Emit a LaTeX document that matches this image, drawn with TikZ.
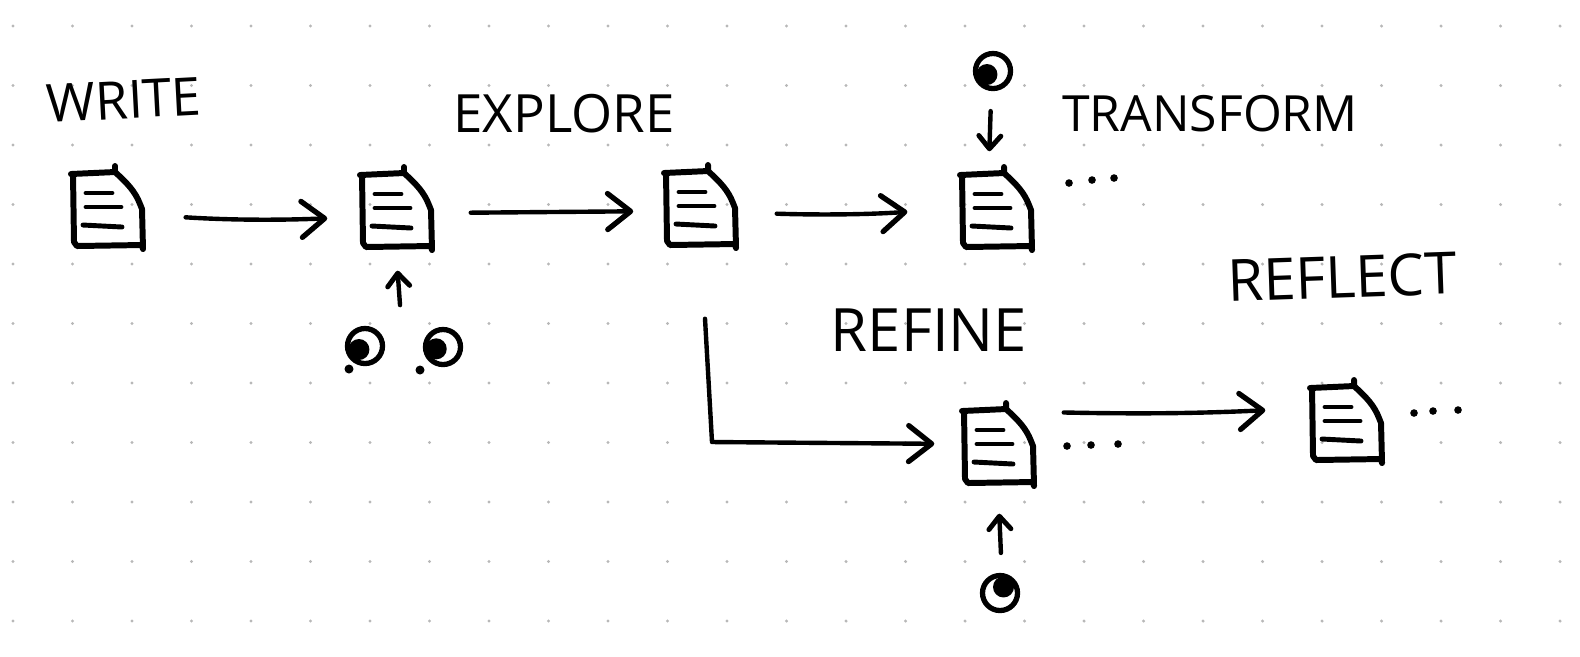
\documentclass[tikz,border=0pt]{standalone}
\usepackage{fontspec}
\setmainfont{Open Sans}
\usetikzlibrary{arrows.meta}

\tikzset{
    sketch/.style={line width=1.25pt, line cap=round, line join=round},
    flow/.style={sketch, -{Straight Barb[round,length=2.3mm,width=3.6mm,line width=1.5pt]}},
    pointer/.style={sketch, -{Straight Barb[round,length=1.3mm,width=2.2mm,line width=1.4pt]}},
    hand/.style={font=\fontsize{#1}{#1}\selectfont, inner sep=0pt},
    hand/.default=15,
    docbox/.style={minimum width=0.7cm, minimum height=0.8cm, inner sep=0pt},
    eyenode/.style={circle, minimum size=0.35cm, inner sep=0pt, draw, line width=1.5pt},
    speck/.style={circle, fill, inner sep=0pt, minimum size=0.09cm}
}

% hand drawn page around a named node
\newcommand{\docpage}[3]{
    \node (#1) [docbox] at (#2,#3) {};
    \begin{scope}[shift={(#2,#3)}]
        \draw [sketch, line width=1.7pt] (-34,-33) -- (-36,-33) -- (8,-35) -- (8,-41) -- (8,-35)
            .. controls (20,-24) and (28,-16) .. (33,-3) -- (35,2) -- (36,42) -- (35,38)
            -- (-30,39) -- (-33,35) -- (-34,-33);
        \draw [sketch, line width=1.4pt] (-21,-14) -- (5,-14);
        \draw [sketch, line width=1.4pt] (-21,0) -- (14,0);
        \draw [sketch, line width=1.4pt] (-24,18) -- (15,20);
    \end{scope}
}
% eye with the dark side to the given angle
\newcommand{\eyeball}[4]{
    \node (#1) [eyenode] at (#2,#3) {};
    \fill (#1.center) ++(#4:7) circle (10.5);
}

\begin{document}
\begin{tikzpicture}[x=0.01cm, y=-0.01cm]
    \useasboundingbox (0,0) rectangle (1580,656);

    % dot grid
    \foreach \i in {0,...,26}
        \foreach \j in {0,...,10}
            \fill [black!28] (13+59.5*\i, 26+59.5*\j) circle (1.7);

    % pages
    \docpage{write}{107}{207}
    \docpage{explore}{396}{208}
    \docpage{branch}{700}{206}
    \docpage{transform}{996}{208}
    \docpage{refine}{998}{444}
    \docpage{reflect}{1346}{421}

    % labels
    \node [hand, rotate=3] (writelabel) at (124,100) {WRITE};
    \node [hand] (explorelabel) at (564,114) {EXPLORE};
    \node [hand=14.2] (transformlabel) at (1210,114) {TRANSFORM};
    \node [hand=17] (refinelabel) at (929,330) {REFINE};
    \node [hand=16.5, rotate=2] (reflectlabel) at (1342,277) {REFLECT};

    % eyes
    \eyeball{eyeleft}{365}{346}{150}
    \eyeball{eyeright}{443}{347}{165}
    \eyeball{eyetop}{993}{71}{150}
    \eyeball{eyebottom}{1000}{593}{-60}
    \coordinate (eyepair) at (403,347);
    \node [speck] (speckleft) at (349,369) {};
    \node [speck] (speckright) at (420,370) {};

    % arrows between pages
    \draw [flow, shorten <=0.43cm, shorten >=0.33cm] (write.-12) to [bend right=3] (explore.194);
    \draw [flow, shorten <=0.39cm, shorten >=0.31cm] (explore.-8) -- (branch.188);
    \draw [flow, shorten <=0.41cm, shorten >=0.53cm] (branch.-10) to [bend right=3] (transform.west);
    \draw [flow, shorten <=0.30cm, shorten >=0.45cm] (refine.42) to [bend right=2] (reflect.160);
    \draw [flow, shorten >=0.28cm] (branch.south) ++(5,72) coordinate (forkstart)
        -- (712,442) coordinate (forkbend) -- (refine.west);

    % arrows from the eyes
    \draw [pointer, shorten <=0.42cm, shorten >=0.22cm] (eyepair) -- (explore.south);
    \draw [pointer, shorten <=0.20cm, shorten >=0.16cm] (eyetop.265) -- (transform.100);
    \draw [pointer, shorten <=0.20cm, shorten >=0.29cm] (eyebottom.85) -- (refine.south);

    % dots
    \foreach \x/\y in {1069/183,1092/180,1114/178,1067/446,1091/445,1118/444,1414/413,1433/411,1458/410}
        \fill (\x,\y) circle (3.8);
\end{tikzpicture}
\end{document}
